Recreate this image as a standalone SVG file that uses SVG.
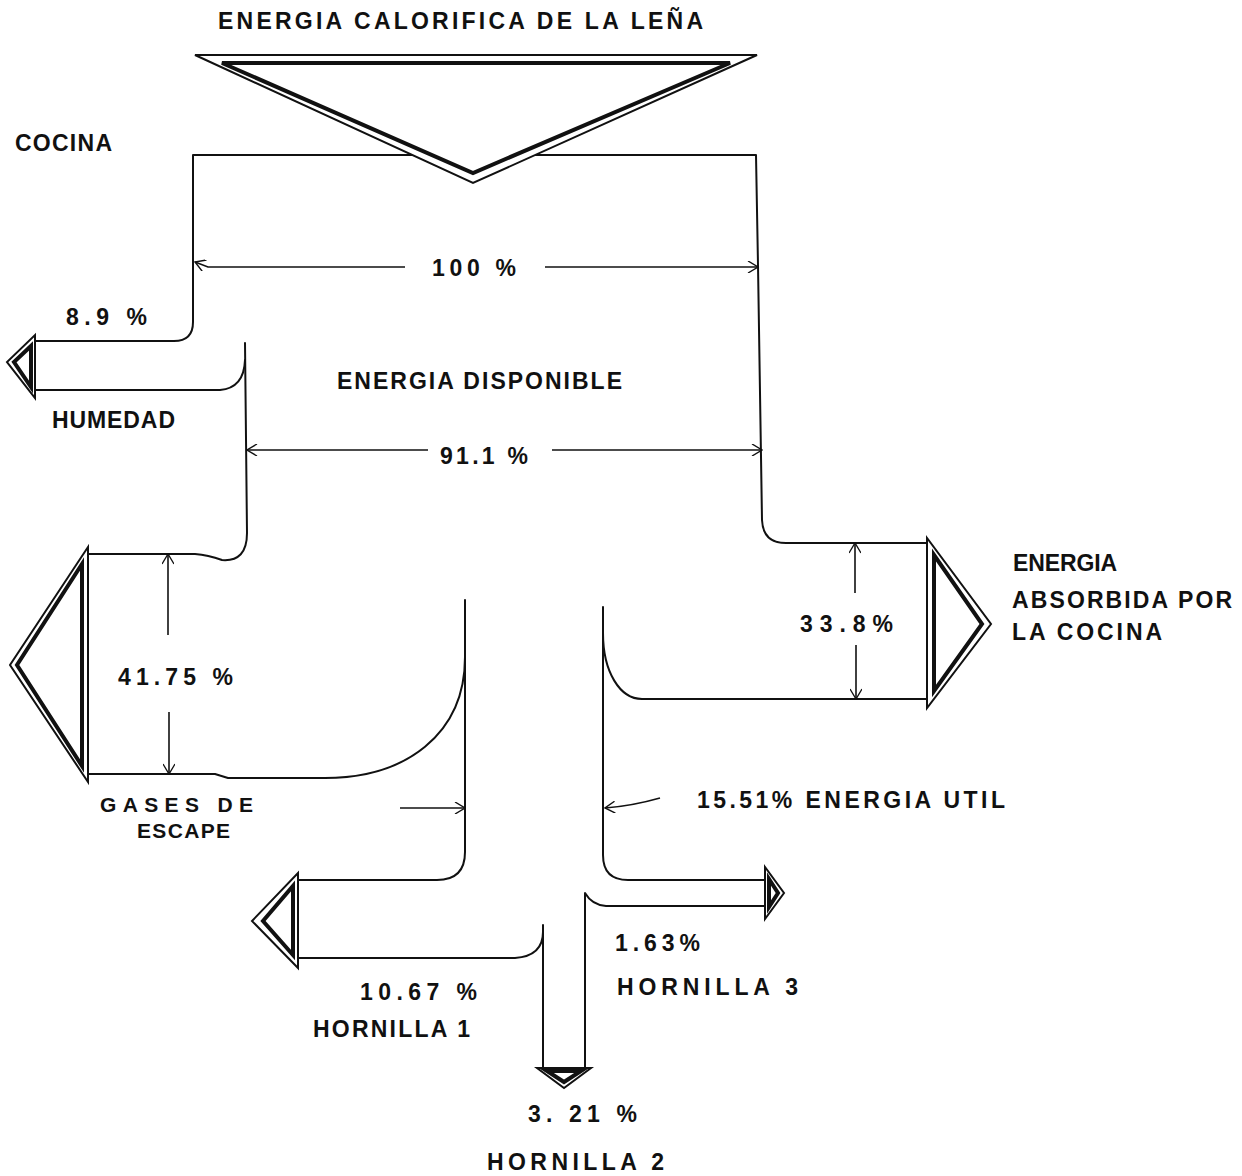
<svg xmlns="http://www.w3.org/2000/svg" width="1242" height="1176" viewBox="0 0 1242 1176">
<style>
  .t { font-family: "Liberation Sans", Arial, sans-serif; font-weight: bold; font-size: 23px; fill: #111; }
  .s { font-size: 21px; }
  .flow { fill: none; stroke: #111; stroke-width: 2; stroke-linecap: round; stroke-linejoin: round; }
  .dim { fill: none; stroke: #111; stroke-width: 1.6; }
  .outer { fill: #fff; stroke: #111; stroke-width: 2; stroke-linejoin: miter; }
  .inner { fill: none; stroke: #111; stroke-width: 4; stroke-linejoin: miter; }
</style>
<defs>
  <marker id="v" viewBox="0 0 12 12" refX="11" refY="6" markerWidth="12" markerHeight="12" markerUnits="userSpaceOnUse" orient="auto">
    <path d="M1,0 L11,6 L1,12" fill="none" stroke="#111" stroke-width="1.4"/>
  </marker>
</defs>
<rect width="1242" height="1176" fill="#fff"/>

<g id="connectors">
  <!-- top flow box -->
  <path class="flow" d="M412,155 L193,155 L193,322 Q193,341 174,341 L35,341"/>
  <path class="flow" d="M535,155 L756,155 L758,265 L762,520 Q763,543 786,543 L927,543"/>
  <!-- humidity lower / gases upper -->
  <path class="flow" d="M35,390 L220,390 Q244,388 245,360"/>
  <path class="flow" d="M245,343 L247,533 Q247,562 222,560 Q208,555 195,554 L88,554"/>
  <!-- gases lower / left channel -->
  <path class="flow" d="M88,774 L215,774 L228,778 L325,778 C405,778 465,735 465,657"/>
  <path class="flow" d="M465,600 L465,852 Q465,880 437,880 L298,880"/>
  <!-- energia absorbida lower / right channel -->
  <path class="flow" d="M927,699 L642,699 C620,699 603,672 603,633"/>
  <path class="flow" d="M603,607 L603,855 Q603,880 628,880 L765,880"/>
  <!-- hornilla 3 lower / hornilla 2 right -->
  <path class="flow" d="M765,906 L606,906 Q592,905 585,893 L585,1068"/>
  <!-- hornilla 1 lower / hornilla 2 left -->
  <path class="flow" d="M298,958 L515,958 Q543,956 543,932"/>
  <path class="flow" d="M543,925 L543,1068"/>

  <!-- dimension lines -->
  <path class="dim" d="M405,267 L208,267 L195,262" marker-end="url(#v)"/>
  <path class="dim" d="M545,267 L758,267" marker-end="url(#v)"/>
  <path class="dim" d="M428,450 L247,450" marker-end="url(#v)"/>
  <path class="dim" d="M552,450 L762,450" marker-end="url(#v)"/>
  <path class="dim" d="M168,635 L168,554" marker-end="url(#v)"/>
  <path class="dim" d="M169,712 L169,774" marker-end="url(#v)"/>
  <path class="dim" d="M855,593 L855,543" marker-end="url(#v)"/>
  <path class="dim" d="M856,645 L856,699" marker-end="url(#v)"/>
  <path class="dim" d="M400,808 L465,808" marker-end="url(#v)"/>
  <path class="dim" d="M660,798 Q632,806 605,808" marker-end="url(#v)"/>
</g>

<g id="node-fuente">
  <polygon class="outer" points="195,55 757,55 473,183"/>
  <polygon class="inner" points="222,63 730,63 473,173"/>
</g>
<g id="node-humedad">
  <polygon class="outer" points="35,335 35,398 7,362"/>
  <polygon class="inner" points="31,346 31,387 14,362"/>
</g>
<g id="node-gases">
  <polygon class="outer" points="88,547 88,782 10,665"/>
  <polygon class="inner" points="82,564 82,766 17,665"/>
</g>
<g id="node-absorbida">
  <polygon class="outer" points="927,538 927,708 991,624"/>
  <polygon class="inner" points="934,555 934,691 982,624"/>
</g>
<g id="node-hornilla1">
  <polygon class="outer" points="298,873 298,968 252,921"/>
  <polygon class="inner" points="293,886 293,955 263,921"/>
</g>
<g id="node-hornilla3">
  <polygon class="outer" points="765,867 765,919 784,893"/>
  <polygon class="inner" points="769,879 769,907 778,893"/>
</g>
<g id="node-hornilla2">
  <polygon class="outer" points="537,1068 591,1068 564,1088"/>
  <polygon class="inner" points="547,1071 581,1071 564,1082"/>
</g>

<g id="labels">
  <text class="t" x="218" y="29" textLength="485" lengthAdjust="spacing">ENERGIA CALORIFICA DE LA LEÑA</text>
  <text class="t" x="15" y="151" textLength="97" lengthAdjust="spacing">COCINA</text>
  <text class="t" x="432" y="276" textLength="84" lengthAdjust="spacing">100 %</text>
  <text class="t" x="66" y="325" textLength="81" lengthAdjust="spacing">8.9 %</text>
  <text class="t" x="337" y="389" textLength="285" lengthAdjust="spacing">ENERGIA DISPONIBLE</text>
  <text class="t" x="52" y="428" textLength="123" lengthAdjust="spacing">HUMEDAD</text>
  <text class="t" x="440" y="464" textLength="88" lengthAdjust="spacing">91.1 %</text>
  <text class="t" x="118" y="685" textLength="115" lengthAdjust="spacing">41.75 %</text>
  <text class="t" x="800" y="632" textLength="93" lengthAdjust="spacing">33.8%</text>
  <text class="t" x="1013" y="571" textLength="104" lengthAdjust="spacing">ENERGIA</text>
  <text class="t" x="1012" y="608" textLength="220" lengthAdjust="spacing">ABSORBIDA POR</text>
  <text class="t" x="1012" y="640" textLength="150" lengthAdjust="spacing">LA COCINA</text>
  <text class="t s" x="100" y="812" textLength="153" lengthAdjust="spacing">GASES  DE</text>
  <text class="t s" x="137" y="838" textLength="93" lengthAdjust="spacing">ESCAPE</text>
  <text class="t" x="697" y="808" textLength="308" lengthAdjust="spacing">15.51% ENERGIA UTIL</text>
  <text class="t" x="615" y="951" textLength="85" lengthAdjust="spacing">1.63%</text>
  <text class="t" x="617" y="995" textLength="181" lengthAdjust="spacing">HORNILLA  3</text>
  <text class="t" x="360" y="1000" textLength="117" lengthAdjust="spacing">10.67 %</text>
  <text class="t" x="313" y="1037" textLength="157" lengthAdjust="spacing">HORNILLA   1</text>
  <text class="t" x="528" y="1122" textLength="109" lengthAdjust="spacing">3. 21 %</text>
  <text class="t" x="487" y="1170" textLength="177" lengthAdjust="spacing">HORNILLA 2</text>
</g>
</svg>
